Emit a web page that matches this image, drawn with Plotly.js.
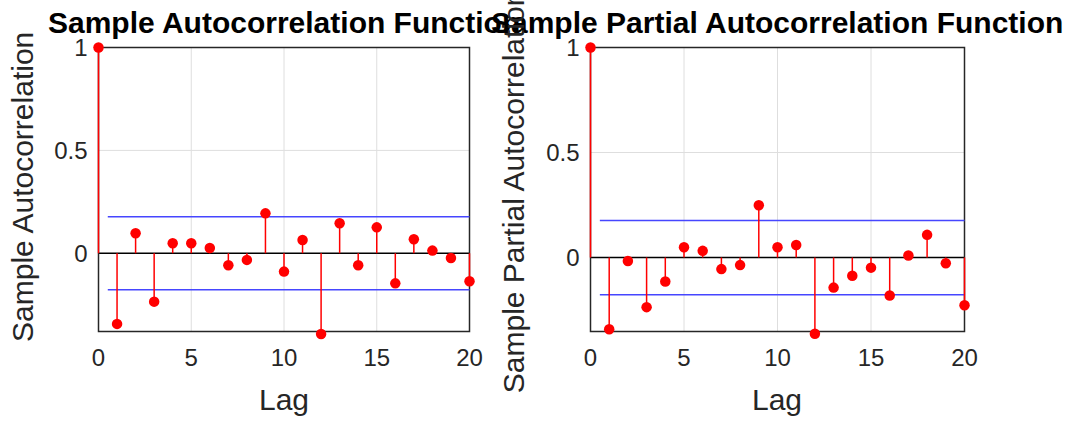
<!DOCTYPE html>
<html>
<head>
<meta charset="utf-8">
<script src="https://cdn.plot.ly/plotly-3.0.1.min.js"></script>
<style>
html,body{margin:0;padding:0;background:#fff;}
#chart{width:1070px;height:421px;}
</style>
</head>
<body>
<div id="chart"></div>
<script>
// ---- data ----
const lags = [0,1,2,3,4,5,6,7,8,9,10,11,12,13,14,15,16,17,18,19,20];
const acfValues = [1, -0.343, 0.097, -0.235, 0.049, 0.049, 0.026, -0.058, -0.032, 0.194, -0.089, 0.065, -0.392, 0.146, -0.058, 0.126, -0.146, 0.068, 0.013, -0.023, -0.136];
const pacfValues = [1, -0.341, -0.016, -0.236, -0.114, 0.049, 0.032, -0.055, -0.036, 0.249, 0.049, 0.060, -0.363, -0.143, -0.087, -0.048, -0.181, 0.010, 0.108, -0.027, -0.227];
const acfBounds = [0.177, -0.177];
const pacfBounds = [0.177, -0.177];
const boundLags = [0.5, 20];
const acfYLim = [-0.380, 1];
const pacfYLim = [-0.352, 1];
const xLim = [0, 20];
const xTickVals = [0, 5, 10, 15, 20];
const yTickVals = [0, 0.5, 1];
const yTickText = ['0', '0.5', '1'];
const titles = ['Sample Autocorrelation Function', 'Sample Partial Autocorrelation Function'];
const yLabels = ['Sample Autocorrelation', 'Sample Partial Autocorrelation'];
const xLabel = 'Lag';

const FONT = 'Liberation Sans, Arial, Helvetica, sans-serif';
const RED = '#ff0000';
const BLUE = 'rgb(70,70,255)';
const AXC = '#262626';
const GRID = '#dedede';

// ---- layout geometry (pixels) ----
const W = 1070, H = 421;
const boxTop = 47.5, boxBottom = 331.5;
const boxX = [[98.5, 469.5], [590.5, 964.5]];
const PAD = 2;        // room around the box so its edges are not clipped
const PAD_BOTTOM = 4.5; // room for the markers that dip just below the box

function xGeom(k) {
  const [l, r] = boxX[k];
  const s = (r - l) / (xLim[1] - xLim[0]);
  return {domain: [(l - PAD) / W, (r + PAD) / W], range: [xLim[0] - PAD / s, xLim[1] + PAD / s]};
}
function yGeom(lim) {
  const s = (boxBottom - boxTop) / (lim[1] - lim[0]);
  return {domain: [1 - (boxBottom + PAD_BOTTOM) / H, 1 - (boxTop - PAD) / H],
          range: [lim[0] - PAD_BOTTOM / s, lim[1] + PAD / s]};
}

function stemTraces(vals, xa, ya) {
  const sx = [], sy = [];
  lags.forEach((l, i) => { sx.push(l, l, null); sy.push(0, vals[i], null); });
  return [
    {x: sx, y: sy, xaxis: xa, yaxis: ya, mode: 'lines', type: 'scatter',
     line: {color: RED, width: 1.5}, hoverinfo: 'skip', cliponaxis: false},
    {x: lags, y: vals, xaxis: xa, yaxis: ya, mode: 'markers', type: 'scatter',
     marker: {color: RED, size: 10.5}, cliponaxis: false}
  ];
}
function boundTraces(b, xa, ya) {
  return b.map(v => ({x: boundLags, y: [v, v], xaxis: xa, yaxis: ya, mode: 'lines',
    type: 'scatter', line: {color: BLUE, width: 1.5}, hoverinfo: 'skip'}));
}

const data = [
  ...boundTraces(acfBounds, 'x', 'y'),
  ...stemTraces(acfValues, 'x', 'y'),
  ...boundTraces(pacfBounds, 'x2', 'y2'),
  ...stemTraces(pacfValues, 'x2', 'y2')
];

function xaxis(g, anchor) {
  return {domain: g.domain, anchor: anchor, range: g.range, tickvals: xTickVals,
    showline: false, ticks: '', showgrid: false, zeroline: false,
    tickfont: {family: FONT, size: 24, color: AXC}, ticklabelstandoff: 5,
    automargin: false, fixedrange: true};
}
function yaxis(g, anchor) {
  return {domain: g.domain, anchor: anchor, range: g.range, tickvals: yTickVals, ticktext: yTickText,
    showline: false, ticks: '', showgrid: false, zeroline: false,
    tickfont: {family: FONT, size: 24, color: AXC}, ticklabelstandoff: 8,
    automargin: false, fixedrange: true};
}

function boxShapes(xr, yr, yLim) {
  const s = [];
  // interior grid lines, built from the tick values
  xTickVals.filter(v => v > xLim[0] && v < xLim[1]).forEach(v => s.push(
    {type: 'line', xref: xr, yref: yr, x0: v, x1: v, y0: yLim[0], y1: yLim[1],
     line: {color: GRID, width: 1}, layer: 'below'}));
  yTickVals.filter(v => v > yLim[0] && v < yLim[1] && v !== 0).forEach(v => s.push(
    {type: 'line', xref: xr, yref: yr, x0: xLim[0], x1: xLim[1], y0: v, y1: v,
     line: {color: GRID, width: 1}, layer: 'below'}));
  // zero line
  s.push({type: 'line', xref: xr, yref: yr, x0: xLim[0], x1: xLim[1], y0: 0, y1: 0,
     line: {color: '#000', width: 1.5}, layer: 'between'});
  // axes box
  s.push({type: 'rect', xref: xr, yref: yr, x0: xLim[0], x1: xLim[1], y0: yLim[0], y1: yLim[1],
     fillcolor: 'rgba(0,0,0,0)', line: {color: AXC, width: 1.5}, layer: 'between'});
  return s;
}

const cx = [0.2652, 0.7262];
const ylx = [0.0215, 0.4799];
const yly = [0.556, 0.547];
const annotations = [];
for (let k = 0; k < 2; k++) {
  annotations.push({text: '<b>' + titles[k] + '</b>', xref: 'paper', yref: 'paper',
    x: cx[k], y: 0.9477, xanchor: 'center', yanchor: 'middle', showarrow: false,
    font: {family: FONT, size: 30, color: '#000'}});
  annotations.push({text: xLabel, xref: 'paper', yref: 'paper',
    x: cx[k], y: 0.0499, xanchor: 'center', yanchor: 'middle', showarrow: false,
    font: {family: FONT, size: 30, color: AXC}});
  annotations.push({text: yLabels[k], xref: 'paper', yref: 'paper', textangle: -90,
    x: ylx[k], y: yly[k], xanchor: 'center', yanchor: 'middle', showarrow: false,
    font: {family: FONT, size: 30, color: AXC}});
}

const layout = {
  width: W, height: H,
  margin: {l: 0, r: 0, t: 0, b: 0, pad: 0},
  paper_bgcolor: '#fff', plot_bgcolor: '#fff',
  showlegend: false,
  xaxis: xaxis(xGeom(0), 'y'),
  yaxis: yaxis(yGeom(acfYLim), 'x'),
  xaxis2: xaxis(xGeom(1), 'y2'),
  yaxis2: yaxis(yGeom(pacfYLim), 'x2'),
  shapes: [...boxShapes('x', 'y', acfYLim), ...boxShapes('x2', 'y2', pacfYLim)],
  annotations: annotations
};

Plotly.newPlot('chart', data, layout, {displayModeBar: false, staticPlot: true});
</script>
</body>
</html>
